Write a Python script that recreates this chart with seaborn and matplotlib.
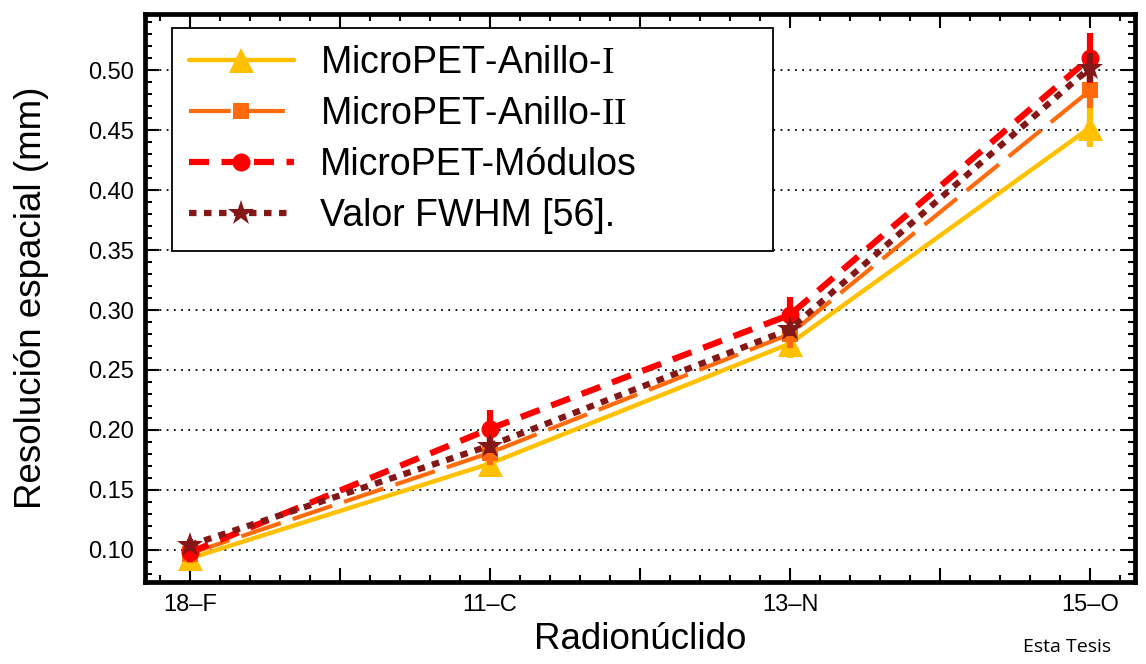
import matplotlib
matplotlib.use("Agg")
import matplotlib.pyplot as plt
from matplotlib.ticker import MultipleLocator, FuncFormatter
import seaborn as sns
import pandas as pd

# Radionuclides and measured spatial resolution (mm)
radionuclidos = ["18\u2013F", "11\u2013C", "13\u2013N", "15\u2013O"]
anillo_i = [0.093, 0.172, 0.272, 0.452]
anillo_i_err = [0.010, 0.010, 0.012, 0.016]
anillo_ii = [0.097, 0.181, 0.280, 0.483]
anillo_ii_err = [0.008, 0.010, 0.012, 0.015]
modulos = [0.098, 0.201, 0.296, 0.510]
modulos_err = [0.008, 0.016, 0.015, 0.021]
fwhm = [0.104, 0.187, 0.284, 0.502]
fwhm_err = [0.005, 0.006, 0.006, 0.012]

labels = [r"MicroPET-Anillo-$\mathrm{I}$", r"MicroPET-Anillo-$\mathrm{II}$",
          "MicroPET-Módulos", "Valor FWHM [56]."]

sns.set_theme(style="ticks")
plt.rcParams["font.family"] = ["Liberation Sans", "DejaVu Sans"]
plt.rcParams["mathtext.fontset"] = "custom"
plt.rcParams["mathtext.rm"] = "Liberation Serif"
plt.rcParams["text.color"] = "black"
plt.rcParams["axes.labelcolor"] = "black"

series = [
    dict(y=anillo_i, err=anillo_i_err, color="#FFC000", marker="^", ms=18,
         lw=3.2, dashes=None),
    dict(y=anillo_ii, err=anillo_ii_err, color="#FF6A0D", marker="s", ms=11,
         lw=3.0, dashes=(10, 3)),
    dict(y=modulos, err=modulos_err, color="#FF0000", marker="o", ms=13,
         lw=4.5, dashes=(3.2, 2.0)),
    dict(y=fwhm, err=fwhm_err, color="#841818", marker="*", ms=19,
         lw=4.5, dashes=(1.2, 1.2)),
]

fig = plt.figure(figsize=(11.46, 6.64), dpi=100)
ax = fig.add_axes([0.1265, 0.1235, 0.8639, 0.8554])

x = list(range(len(radionuclidos)))
handles = []
for lab, s in zip(labels, series):
    df = pd.DataFrame({"x": x, "y": s["y"]})
    sns.lineplot(data=df, x="x", y="y", ax=ax, color=s["color"], lw=s["lw"],
                 marker=s["marker"], markersize=s["ms"], markeredgewidth=0,
                 legend=False)
    line = ax.lines[-1]
    if s["dashes"] is not None:
        line.set_dashes(s["dashes"])
    line.set_dash_capstyle("butt")
    ax.errorbar(x, s["y"], yerr=s["err"], fmt="none", ecolor=s["color"],
                elinewidth=4.5, capsize=0, zorder=line.get_zorder())
    handles.append(line)

ax.set_xlim(-0.15, 3.15)
ax.set_ylim(0.0733, 0.5467)

ax.xaxis.set_major_locator(MultipleLocator(0.5))
ax.xaxis.set_minor_locator(MultipleLocator(0.1))
ax.xaxis.set_major_formatter(FuncFormatter(
    lambda v, p: radionuclidos[int(round(v))] if abs(v - round(v)) < 1e-6
    and 0 <= round(v) < len(radionuclidos) else ""))
ax.yaxis.set_major_locator(MultipleLocator(0.05))
ax.yaxis.set_minor_locator(MultipleLocator(0.01))
ax.yaxis.set_major_formatter(FuncFormatter(lambda v, p: f"{v:.2f}"))

ax.tick_params(which="both", direction="in", top=True, right=True,
               colors="black", labelsize=17, width=1.5)
ax.tick_params(which="major", length=10, pad=8)
ax.tick_params(which="minor", length=5)
ax.tick_params(axis="x", which="major", pad=9)

for sp in ax.spines.values():
    sp.set_linewidth(3.4)
    sp.set_color("black")

ax.grid(axis="y", which="major", color="black", linestyle=(0, (1, 3)),
        linewidth=1.3)

ax.set_xlabel("Radionúclido", fontsize=26.5, labelpad=4)
ax.set_ylabel("Resolución espacial (mm)", fontsize=26.5, labelpad=28)

leg = ax.legend(handles, labels, loc="upper left",
                bbox_to_anchor=(0.0273, 0.597, 0.607, 0.378), mode="expand",
                fontsize=27, frameon=True, fancybox=False,
                edgecolor="black", framealpha=1,
                handlelength=2.8, handletextpad=0.7, labelspacing=0.4,
                borderpad=0.45, borderaxespad=0)
leg.get_frame().set_linewidth(1.3)
leg.set_zorder(10)

fig.text(0.931, 0.012, "Esta Tesis", fontsize=14, ha="center", va="bottom",
         family=["Open Sans", "DejaVu Sans"])

fig.savefig("out.png", dpi=100, facecolor="white")
